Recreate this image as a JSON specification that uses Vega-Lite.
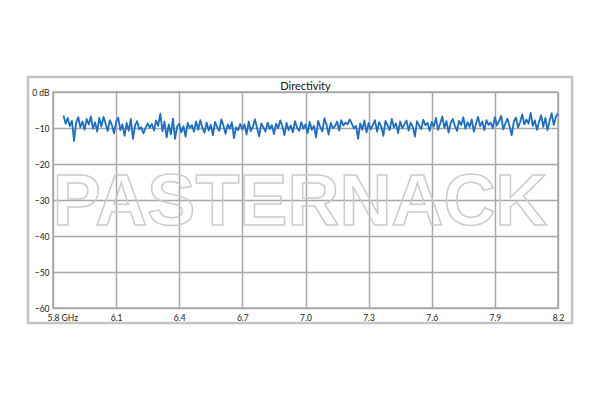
{
  "$schema": "https://vega.github.io/schema/vega-lite/v6.json",
  "autosize": "none",
  "width": 505,
  "height": 216,
  "padding": {"left": 53, "top": 92, "right": 42, "bottom": 92},
  "background": "white",
  "title": {"text": "Directivity", "fontSize": 11, "fontWeight": "normal", "font": "Lato", "color": "#111", "offset": -16},
  "config": {"view": {"stroke": "#a8a8a8", "strokeWidth": 1.5}},
  "datasets": {
    "frame": [{"f0": 5.681, "f1": 8.267, "d0": 4.17, "d1": -64.17}],
    "mark": [{"label": "PASTERNACK", "freq": 6.974, "dB": -37.0}],
    "series": [
{"freq":5.85,"dB":-6.5},{"freq":5.86,"dB":-8.8},{"freq":5.87,"dB":-7.2},{"freq":5.88,"dB":-9.5},{"freq":5.89,"dB":-8.0},{"freq":5.90,"dB":-13.6},{"freq":5.91,"dB":-8.5},{"freq":5.92,"dB":-7.0},{"freq":5.93,"dB":-9.8},{"freq":5.94,"dB":-8.2},{"freq":5.95,"dB":-10.5},{"freq":5.96,"dB":-7.5},{"freq":5.97,"dB":-9.0},{"freq":5.98,"dB":-6.8},{"freq":5.99,"dB":-10.2},{"freq":6.00,"dB":-8.4},{"freq":6.01,"dB":-11.0},{"freq":6.02,"dB":-7.2},{"freq":6.03,"dB":-9.6},{"freq":6.04,"dB":-6.9},{"freq":6.05,"dB":-8.8},{"freq":6.06,"dB":-10.8},{"freq":6.07,"dB":-7.8},{"freq":6.08,"dB":-9.2},{"freq":6.09,"dB":-11.5},
{"freq":6.10,"dB":-8.3},{"freq":6.11,"dB":-7.1},{"freq":6.12,"dB":-10.6},{"freq":6.13,"dB":-9.0},{"freq":6.14,"dB":-12.2},{"freq":6.15,"dB":-8.6},{"freq":6.16,"dB":-10.8},{"freq":6.17,"dB":-7.5},{"freq":6.18,"dB":-13.0},{"freq":6.19,"dB":-9.3},{"freq":6.20,"dB":-8.1},{"freq":6.21,"dB":-10.4},{"freq":6.22,"dB":-9.8},{"freq":6.23,"dB":-11.5},{"freq":6.24,"dB":-10.0},{"freq":6.25,"dB":-8.7},{"freq":6.26,"dB":-9.9},{"freq":6.27,"dB":-8.9},{"freq":6.28,"dB":-10.7},{"freq":6.29,"dB":-7.9},{"freq":6.30,"dB":-9.4},{"freq":6.31,"dB":-6.0},{"freq":6.32,"dB":-10.9},{"freq":6.33,"dB":-8.2},{"freq":6.34,"dB":-12.6},{"freq":6.35,"dB":-9.0},{"freq":6.36,"dB":-11.8},{"freq":6.37,"dB":-7.4},{"freq":6.38,"dB":-13.0},{"freq":6.39,"dB":-9.6},
{"freq":6.40,"dB":-8.8},{"freq":6.41,"dB":-11.2},{"freq":6.42,"dB":-9.5},{"freq":6.43,"dB":-12.4},{"freq":6.44,"dB":-8.6},{"freq":6.45,"dB":-10.0},{"freq":6.46,"dB":-9.2},{"freq":6.47,"dB":-11.0},{"freq":6.48,"dB":-8.2},{"freq":6.49,"dB":-10.5},{"freq":6.50,"dB":-7.8},{"freq":6.51,"dB":-9.9},{"freq":6.52,"dB":-11.3},{"freq":6.53,"dB":-8.5},{"freq":6.54,"dB":-10.7},{"freq":6.55,"dB":-9.1},{"freq":6.56,"dB":-12.0},{"freq":6.57,"dB":-8.3},{"freq":6.58,"dB":-9.7},{"freq":6.59,"dB":-10.8},{"freq":6.60,"dB":-7.6},{"freq":6.61,"dB":-9.4},{"freq":6.62,"dB":-11.6},{"freq":6.63,"dB":-9.0},{"freq":6.64,"dB":-10.2},{"freq":6.65,"dB":-8.4},{"freq":6.66,"dB":-12.8},{"freq":6.67,"dB":-9.8},{"freq":6.68,"dB":-10.6},{"freq":6.69,"dB":-8.9},
{"freq":6.70,"dB":-10.4},{"freq":6.71,"dB":-9.0},{"freq":6.72,"dB":-11.8},{"freq":6.73,"dB":-8.2},{"freq":6.74,"dB":-10.9},{"freq":6.75,"dB":-9.6},{"freq":6.76,"dB":-7.6},{"freq":6.77,"dB":-10.1},{"freq":6.78,"dB":-12.3},{"freq":6.79,"dB":-8.7},{"freq":6.80,"dB":-9.8},{"freq":6.81,"dB":-11.0},{"freq":6.82,"dB":-8.5},{"freq":6.83,"dB":-10.3},{"freq":6.84,"dB":-9.2},{"freq":6.85,"dB":-11.7},{"freq":6.86,"dB":-8.8},{"freq":6.87,"dB":-10.0},{"freq":6.88,"dB":-7.9},{"freq":6.89,"dB":-9.5},{"freq":6.90,"dB":-12.0},{"freq":6.91,"dB":-8.6},{"freq":6.92,"dB":-10.6},{"freq":6.93,"dB":-9.3},{"freq":6.94,"dB":-11.2},{"freq":6.95,"dB":-8.1},{"freq":6.96,"dB":-9.9},{"freq":6.97,"dB":-10.8},{"freq":6.98,"dB":-8.4},{"freq":6.99,"dB":-10.2},
{"freq":7.00,"dB":-9.0},{"freq":7.01,"dB":-11.4},{"freq":7.02,"dB":-8.3},{"freq":7.03,"dB":-10.5},{"freq":7.04,"dB":-9.4},{"freq":7.05,"dB":-12.6},{"freq":7.06,"dB":-8.0},{"freq":7.07,"dB":-9.7},{"freq":7.08,"dB":-10.9},{"freq":7.09,"dB":-7.3},{"freq":7.10,"dB":-9.1},{"freq":7.11,"dB":-11.8},{"freq":7.12,"dB":-8.6},{"freq":7.13,"dB":-10.0},{"freq":7.14,"dB":-9.5},{"freq":7.15,"dB":-8.2},{"freq":7.16,"dB":-10.7},{"freq":7.17,"dB":-7.8},{"freq":7.18,"dB":-9.3},{"freq":7.19,"dB":-8.5},{"freq":7.20,"dB":-9.0},{"freq":7.21,"dB":-7.6},{"freq":7.22,"dB":-8.8},{"freq":7.23,"dB":-10.1},{"freq":7.24,"dB":-9.4},{"freq":7.25,"dB":-13.0},{"freq":7.26,"dB":-8.7},{"freq":7.27,"dB":-10.5},{"freq":7.28,"dB":-7.9},{"freq":7.29,"dB":-11.2},
{"freq":7.30,"dB":-8.6},{"freq":7.31,"dB":-10.4},{"freq":7.32,"dB":-9.1},{"freq":7.33,"dB":-7.8},{"freq":7.34,"dB":-11.0},{"freq":7.35,"dB":-8.4},{"freq":7.36,"dB":-9.6},{"freq":7.37,"dB":-12.2},{"freq":7.38,"dB":-8.0},{"freq":7.39,"dB":-9.3},{"freq":7.40,"dB":-10.6},{"freq":7.41,"dB":-7.5},{"freq":7.42,"dB":-9.8},{"freq":7.43,"dB":-8.7},{"freq":7.44,"dB":-11.4},{"freq":7.45,"dB":-8.2},{"freq":7.46,"dB":-10.1},{"freq":7.47,"dB":-9.0},{"freq":7.48,"dB":-7.9},{"freq":7.49,"dB":-10.7},{"freq":7.50,"dB":-8.5},{"freq":7.51,"dB":-9.7},{"freq":7.52,"dB":-12.4},{"freq":7.53,"dB":-8.1},{"freq":7.54,"dB":-9.4},{"freq":7.55,"dB":-10.3},{"freq":7.56,"dB":-7.7},{"freq":7.57,"dB":-9.2},{"freq":7.58,"dB":-8.6},{"freq":7.59,"dB":-10.8},
{"freq":7.60,"dB":-8.3},{"freq":7.61,"dB":-9.6},{"freq":7.62,"dB":-7.2},{"freq":7.63,"dB":-10.5},{"freq":7.64,"dB":-8.8},{"freq":7.65,"dB":-6.8},{"freq":7.66,"dB":-9.9},{"freq":7.67,"dB":-8.1},{"freq":7.68,"dB":-11.3},{"freq":7.69,"dB":-8.6},{"freq":7.70,"dB":-7.5},{"freq":7.71,"dB":-9.4},{"freq":7.72,"dB":-10.8},{"freq":7.73,"dB":-8.0},{"freq":7.74,"dB":-9.2},{"freq":7.75,"dB":-7.0},{"freq":7.76,"dB":-10.2},{"freq":7.77,"dB":-8.4},{"freq":7.78,"dB":-9.7},{"freq":7.79,"dB":-7.6},{"freq":7.80,"dB":-11.0},{"freq":7.81,"dB":-8.9},{"freq":7.82,"dB":-6.9},{"freq":7.83,"dB":-9.5},{"freq":7.84,"dB":-8.2},{"freq":7.85,"dB":-10.6},{"freq":7.86,"dB":-7.8},{"freq":7.87,"dB":-9.1},{"freq":7.88,"dB":-8.5},{"freq":7.89,"dB":-10.0},
{"freq":7.90,"dB":-7.0},{"freq":7.91,"dB":-9.3},{"freq":7.92,"dB":-8.1},{"freq":7.93,"dB":-6.6},{"freq":7.94,"dB":-10.4},{"freq":7.95,"dB":-8.7},{"freq":7.96,"dB":-7.4},{"freq":7.97,"dB":-9.6},{"freq":7.98,"dB":-12.0},{"freq":7.99,"dB":-8.2},{"freq":8.00,"dB":-7.1},{"freq":8.01,"dB":-9.8},{"freq":8.02,"dB":-8.4},{"freq":8.03,"dB":-6.2},{"freq":8.04,"dB":-9.0},{"freq":8.05,"dB":-7.6},{"freq":8.06,"dB":-8.8},{"freq":8.07,"dB":-5.8},{"freq":8.08,"dB":-9.4},{"freq":8.09,"dB":-7.9},{"freq":8.10,"dB":-10.5},{"freq":8.11,"dB":-8.3},{"freq":8.12,"dB":-6.5},{"freq":8.13,"dB":-9.7},{"freq":8.14,"dB":-7.2},{"freq":8.15,"dB":-10.6},{"freq":8.16,"dB":-8.0},{"freq":8.17,"dB":-5.9},{"freq":8.18,"dB":-9.2},{"freq":8.19,"dB":-6.8},{"freq":8.20,"dB":-6.0}
    ]
  },
  "encoding": {
    "x": {
      "field": "freq", "type": "quantitative",
      "scale": {"domain": [5.8, 8.2], "nice": false, "zero": false},
      "axis": {
        "title": null, "values": [5.8, 6.1, 6.4, 6.7, 7.0, 7.3, 7.6, 7.9, 8.2],
        "labelExpr": "datum.value == 5.8 ? '5.8 GHz' : format(datum.value, '.1f')",
        "grid": true, "gridColor": "#a8a8a8", "gridWidth": 1.5, "gridOpacity": 1,
        "domain": false, "ticks": false, "labelPadding": 5,
        "labelFont": "Lato", "labelFontSize": 8.5, "labelColor": "#222",
        "labelFlush": true, "labelFlushOffset": 6
      }
    },
    "y": {
      "field": "dB", "type": "quantitative",
      "scale": {"domain": [-60, 0], "nice": false, "zero": false},
      "axis": {
        "title": null, "values": [0, -10, -20, -30, -40, -50, -60],
        "labelExpr": "datum.value == 0 ? '0 dB' : format(datum.value, 'd')",
        "grid": true, "gridColor": "#a8a8a8", "gridWidth": 1.5, "gridOpacity": 1,
        "domain": false, "ticks": false, "labelPadding": 4,
        "labelFont": "Lato", "labelFontSize": 8.5, "labelColor": "#222"
      }
    }
  },
  "layer": [
    {
      "data": {"name": "frame"},
      "mark": {"type": "rect", "clip": false, "fill": null, "fillOpacity": 0, "stroke": "#c4c4c4", "strokeWidth": 2.5},
      "encoding": {
        "x": {"field": "f0", "type": "quantitative"},
        "x2": {"field": "f1"},
        "y": {"field": "d0", "type": "quantitative"},
        "y2": {"field": "d1"}
      }
    },
    {
      "data": {"name": "mark"},
      "mark": {"type": "text", "font": "Liberation Sans", "fontWeight": "bold", "fontSize": 72, "fill": null, "fillOpacity": 0, "stroke": "#cbcbcb", "strokeWidth": 1.5, "align": "center", "baseline": "alphabetic"},
      "encoding": {
        "text": {"field": "label"}
      }
    },
    {
      "data": {"name": "series"},
      "mark": {"type": "line", "color": "#1a6ec8", "strokeWidth": 1.8, "strokeJoin": "round"},
      "encoding": {}
    }
  ]
}
